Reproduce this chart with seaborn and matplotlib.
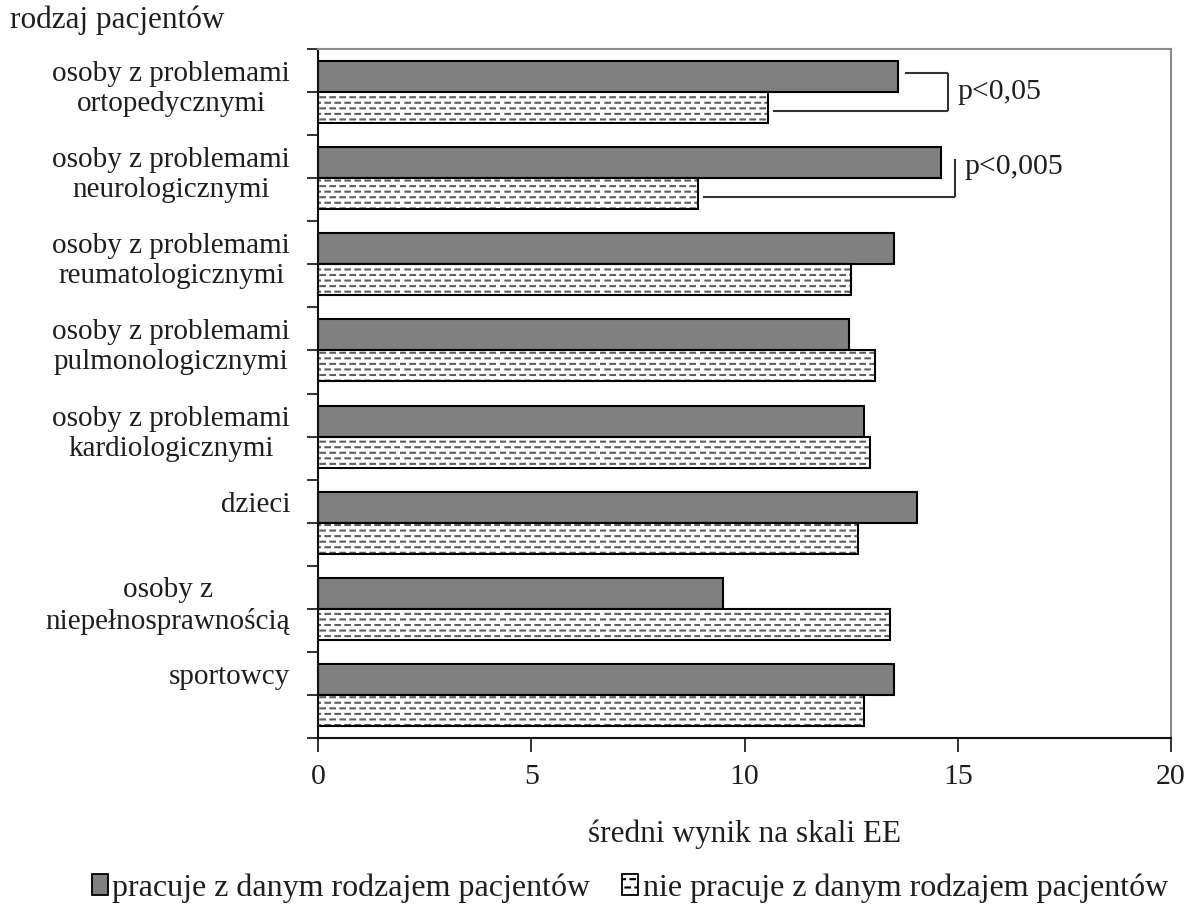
import matplotlib
matplotlib.use("Agg")
import numpy as np
import pandas as pd
import seaborn as sns
import matplotlib.pyplot as plt
import matplotlib.hatch as mhatch
from matplotlib.path import Path
from matplotlib.patches import Patch
from matplotlib.transforms import ScaledTranslation
import matplotlib.colors as mcolors

# ---------------- data ----------------
categories = [
    "ortopedyczne", "neurologiczne", "reumatologiczne", "pulmonologiczne",
    "kardiologiczne", "dzieci", "niepełnosprawność", "sportowcy",
]
tick_labels = [
    "osoby z problemami\nortopedycznymi",
    "osoby z problemami\nneurologicznymi",
    "osoby z problemami\nreumatologicznymi",
    "osoby z problemami\npulmonologicznymi",
    "osoby z problemami\nkardiologicznymi",
    "dzieci\n ",
    "osoby z\nniepełnosprawnością",
    "sportowcy\n ",
]
series = ["pracuje z danym rodzajem pacjentów",
          "nie pracuje z danym rodzajem pacjentów"]
works_with = [13.6, 14.6, 13.5, 12.45, 12.8, 14.05, 9.5, 13.5]
not_works_with = [10.55, 8.9, 12.5, 13.05, 12.95, 12.65, 13.4, 12.8]
x_ticks = [0, 5, 10, 15, 20]
sig_categories = [0, 1]
sig_texts = ["p<0,05", "p<0,005"]
sig_bracket_x = [14.77, 14.93]

df = pd.DataFrame({
    "category": categories * 2,
    "series": [series[0]] * len(categories) + [series[1]] * len(categories),
    "value": works_with + not_works_with,
})


# ---------------- dashed hatch (Excel-like) ----------------
class DashedHorizontalHatch(mhatch.HatchPatternBase):
    def __init__(self, hatch, density):
        n = hatch.count('-') + hatch.count('+')
        self.num_rows = int(n * density)
        self.num_dashes = 10
        self.num_vertices = self.num_rows * self.num_dashes * 2

    def set_vertices_and_codes(self, vertices, codes):
        k = 0
        m = self.num_dashes
        for i in range(self.num_rows):
            y = (i + 0.5) / self.num_rows
            off = 0.5 / m if i % 2 else 0.0
            for j in range(m):
                x0 = j / m + off + 0.04 / m
                x1 = x0 + 0.46 / m
                vertices[k] = (x0, y)
                vertices[k + 1] = (x1, y)
                codes[k] = Path.MOVETO
                codes[k + 1] = Path.LINETO
                k += 2


if mhatch.HorizontalHatch in mhatch._hatch_types:
    mhatch._hatch_types[mhatch._hatch_types.index(mhatch.HorizontalHatch)] = DashedHorizontalHatch

# ---------------- style ----------------
sns.set_style("ticks")
plt.rcParams["font.family"] = ["Liberation Serif", "DejaVu Serif"]
plt.rcParams["hatch.linewidth"] = 1.5
text_color = "#1e1e1e"
plt.rcParams["text.color"] = text_color
plt.rcParams["xtick.color"] = "#222222"
plt.rcParams["ytick.color"] = "#222222"

dark = "#808080"
hatch_color = mcolors.to_rgba("#5e5e5e")

fig = plt.figure(figsize=(11.89, 9.08), dpi=100)
ax = fig.add_axes([318 / 1189, 1 - 738 / 908, (1171 - 318) / 1189, (738 - 49) / 908])

sns.barplot(data=df, x="value", y="category", hue="series", order=categories,
            hue_order=series, orient="h", palette=[dark, "white"], saturation=1,
            width=0.72, edgecolor="black", linewidth=1.5, errorbar=None,
            legend=False, ax=ax)

for p in ax.containers[1]:
    p.set_hatch("---")
    p._hatch_color = hatch_color

ax.set_xlim(0, 20)
ax.set_ylim(len(categories) - 0.5, -0.5)
ax.set_xticks(x_ticks)
ax.set_xticklabels([str(t) for t in x_ticks])
ax.set_yticks(np.arange(len(categories)))
ax.set_yticklabels(tick_labels, ha="right", multialignment="center")
ax.set_yticks(np.arange(len(categories) + 1) - 0.5, minor=True)
ax.tick_params(axis="y", which="both", length=8, width=1.3, direction="out")
ax.tick_params(axis="y", which="major", pad=12, labelsize=21, labelcolor=text_color)
ax.tick_params(axis="x", length=10, width=1.3, direction="out", pad=9,
               labelsize=21.5, labelcolor=text_color)
shift = ScaledTranslation(0, 8 / 100, fig.dpi_scale_trans)
for lbl in ax.get_yticklabels():
    lbl.set_transform(lbl.get_transform() + shift)

ax.set_ylabel("")
ax.set_xlabel("średni wynik na skali EE", fontsize=22.5, labelpad=21, color=text_color)

for side in ["left", "bottom"]:
    ax.spines[side].set_color("#111111")
    ax.spines[side].set_linewidth(1.5)
for side in ["top", "right"]:
    ax.spines[side].set_visible(True)
    ax.spines[side].set_color("#8a8a8a")
    ax.spines[side].set_linewidth(1.5)

# significance brackets
line_kw = dict(color="#333333", lw=1.5, clip_on=False, solid_capstyle="butt")
for n, (ci, txt, bx) in enumerate(zip(sig_categories, sig_texts, sig_bracket_x)):
    y_top = ci - 0.22
    y_bot = ci + 0.22
    if n == 0:
        ax.plot([works_with[ci] + 0.16, bx], [y_top, y_top], **line_kw)
    ax.plot([bx, bx], [y_top, y_bot], **line_kw)
    ax.plot([not_works_with[ci] + 0.12, bx], [y_bot, y_bot], **line_kw)
    ty = ci if n == 0 else ci - 0.13
    ax.text(bx + 0.22, ty, txt, fontsize=21.5, va="center", ha="left", color=text_color)

fig.text(10 / 1189, 1 - 20 / 908, "rodzaj pacjentów", fontsize=22.5,
         va="center", ha="left", color=text_color)

handles = [Patch(facecolor=dark, edgecolor="black", linewidth=1.3),
           Patch(facecolor="white", edgecolor="black", linewidth=1.3, hatch="--")]
handles[1]._hatch_color = mcolors.to_rgba("black")
fig.legend(handles, series, loc="center", bbox_to_anchor=(630 / 1189, 1 - 888 / 908),
           ncol=2, frameon=False, fontsize=23, handlelength=0.5, handleheight=0.6,
           handletextpad=0.15, columnspacing=1.0, borderaxespad=0)

fig.savefig("out.png", dpi=100)
